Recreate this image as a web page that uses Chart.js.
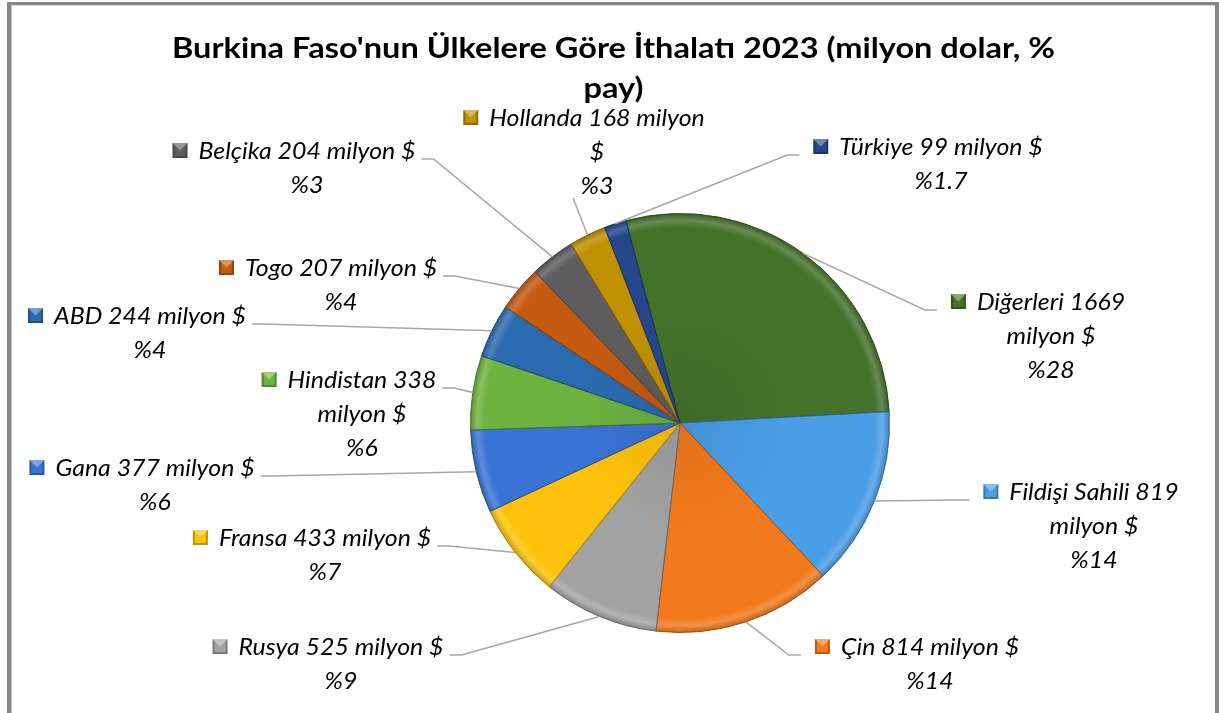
<!DOCTYPE html>
<html>
<head>
<meta charset="utf-8">
<script src="https://cdn.jsdelivr.net/npm/chart.js@4.4.1/dist/chart.umd.min.js"></script>
<style>
  html, body { margin: 0; padding: 0; background: #ffffff; }
  #wrap { position: relative; width: 1219px; height: 713px; }
</style>
</head>
<body>
<div id="wrap"><canvas id="c" width="1219" height="713"></canvas></div>
<script>
// ---- data ----
const titleLines = ["Burkina Faso'nun Ülkelere Göre İthalatı 2023 (milyon dolar, %", "pay)"];
const categories = ["Diğerleri", "Fildişi Sahili", "Çin", "Rusya", "Fransa", "Gana", "Hindistan", "ABD", "Togo", "Belçika", "Hollanda", "Türkiye"];
const values = [1669, 819, 814, 525, 433, 377, 338, 244, 207, 204, 168, 99];
const pctLabels = ["%28", "%14", "%14", "%9", "%7", "%6", "%6", "%4", "%4", "%3", "%3", "%1.7"];
const unitText = "milyon $";
// how each label wraps: 0 = one line, 1 = break before "milyon $", 2 = break before "$"
const wrapMode = [1, 1, 0, 0, 0, 0, 1, 0, 0, 0, 2, 0];

// ---- style ----
const colors = ["#44722A", "#4A9EE6", "#F27A1C", "#A2A2A2", "#FFC20A", "#3A73D6", "#6DB33F", "#2A6BAF", "#C55A11", "#5E5E5E", "#BF9000", "#26468C"];
// label layout: cx = centre of text block, y = centre of first line, side = where the label sits
const labelLayout = [
  {cx: 1051, y: 302, side: "right"},
  {cx: 1094, y: 492, side: "right"},
  {cx: 930,  y: 647, side: "right"},
  {cx: 341,  y: 647, side: "left"},
  {cx: 325,  y: 538, side: "left"},
  {cx: 155,  y: 468, side: "left"},
  {cx: 362,  y: 380, side: "left"},
  {cx: 150,  y: 316, side: "left"},
  {cx: 341,  y: 268, side: "left"},
  {cx: 307,  y: 151, side: "left"},
  {cx: 597,  y: 118, side: "top"},
  {cx: 941,  y: 147, side: "right"}
];

function shade(hex, f) {
  const n = parseInt(hex.slice(1), 16);
  let r = (n >> 16) & 255, g = (n >> 8) & 255, b = n & 255;
  if (f >= 0) { r += (255 - r) * f; g += (255 - g) * f; b += (255 - b) * f; }
  else { r *= (1 + f); g *= (1 + f); b *= (1 + f); }
  return "rgb(" + Math.round(r) + "," + Math.round(g) + "," + Math.round(b) + ")";
}

function labelLines(i) {
  const head = categories[i] + " " + values[i];
  if (wrapMode[i] === 1) return [head, unitText, pctLabels[i]];
  if (wrapMode[i] === 2) return [head + " milyon", "$", pctLabels[i]];
  return [head + " " + unitText, pctLabels[i]];
}

const LABEL_FONT = "italic 24px Lato, 'Open Sans', sans-serif";
const TITLE_FONT = "bold 28px Lato, 'Open Sans', sans-serif";

// draw centred text compressed horizontally by factor sx
function drawText(ctx, t, x, y, sx) {
  ctx.save();
  ctx.translate(x, y);
  ctx.scale(sx, 1);
  ctx.fillText(t, 0, 0);
  ctx.restore();
}

const decor = {
  id: "decor",
  beforeDraw(chart) {
    const ctx = chart.ctx;
    ctx.save();
    ctx.fillStyle = "#ffffff";
    ctx.fillRect(0, 0, chart.width, chart.height);
    ctx.fillStyle = "#868686";
    ctx.fillRect(7, 2, 1212, 3);
    ctx.fillRect(7, 2, 4.5, 711);
    ctx.fillRect(1215, 2, 4, 711);
    ctx.fillStyle = "#d9d9d9";
    ctx.fillRect(11.5, 5, 1203.5, 1);
    ctx.restore();
  },
  afterDraw(chart) {
    const ctx = chart.ctx;
    const meta = chart.getDatasetMeta(0);
    ctx.save();
    ctx.textAlign = "center";
    ctx.textBaseline = "middle";
    ctx.fillStyle = "#000000";
    // title
    ctx.font = TITLE_FONT;
    const tsx = 883 / ctx.measureText(titleLines[0]).width;
    drawText(ctx, titleLines[0], 613.5, 49, tsx);
    drawText(ctx, titleLines[1], 613.5, 89, tsx);

    // labels
    ctx.font = LABEL_FONT;
    const lsx = 192 / ctx.measureText("ABD 244 milyon $").width;
    const lineGap = 34;
    meta.data.forEach((arc, i) => {
      const L = labelLayout[i];
      const lines = labelLines(i);
      ctx.font = LABEL_FONT;
      const w0 = ctx.measureText(lines[0]).width * lsx;
      const left = L.cx - w0 / 2;
      const right = L.cx + w0 / 2;
      const sq = 15;
      const sqX = left - 26, sqY = L.y - 8;

      // leader line
      const p = arc.getProps(["x", "y", "startAngle", "endAngle", "outerRadius"], true);
      const mid = (p.startAngle + p.endAngle) / 2;
      const ex = p.x + Math.cos(mid) * p.outerRadius;
      const ey = p.y + Math.sin(mid) * p.outerRadius;
      ctx.strokeStyle = "#a6a6a6";
      ctx.lineWidth = 1.5;
      ctx.beginPath();
      if (L.side === "right") {
        const ax = sqX - 14, ay = L.y + 8;
        ctx.moveTo(ax, ay); ctx.lineTo(ax - 12, ay); ctx.lineTo(ex, ey);
      } else if (L.side === "left") {
        const ax = right + 6, ay = L.y + 8;
        ctx.moveTo(ax, ay); ctx.lineTo(ax + 12, ay); ctx.lineTo(ex, ey);
      } else {
        const ax = L.cx - 24, ay = L.y + (lines.length - 1) * lineGap + 12;
        ctx.moveTo(ax, ay); ctx.lineTo(ex, ey);
      }
      ctx.stroke();

      // legend key (bevelled square)
      const c = colors[i];
      ctx.fillStyle = shade(c, -0.25);
      ctx.fillRect(sqX, sqY, sq, sq);
      ctx.fillStyle = c;
      ctx.fillRect(sqX + 2, sqY + 2, sq - 4, sq - 4);
      ctx.fillStyle = shade(c, 0.35);
      ctx.beginPath();
      ctx.moveTo(sqX, sqY); ctx.lineTo(sqX + sq, sqY); ctx.lineTo(sqX + sq / 2, sqY + sq / 2); ctx.closePath();
      ctx.fill();

      // text
      ctx.fillStyle = "#000000";
      lines.forEach((t, k) => drawText(ctx, t, L.cx, L.y + k * lineGap, lsx));
    });
    ctx.restore();
  }
};

function sliceFill(context) {
  const i = context.dataIndex;
  const chart = context.chart;
  const a = chart.chartArea;
  const base = colors[i];
  if (!a) return base;
  const cx = (a.left + a.right) / 2, cy = (a.top + a.bottom) / 2;
  const r = Math.min(a.width, a.height) / 2;
  const g = chart.ctx.createRadialGradient(cx, cy, 0, cx, cy, r);
  g.addColorStop(0, shade(base, -0.08));
  g.addColorStop(0.5, base);
  g.addColorStop(0.93, base);
  g.addColorStop(0.965, shade(base, 0.18));
  g.addColorStop(1, shade(base, -0.2));
  return g;
}

new Chart(document.getElementById("c"), {
  type: "pie",
  data: {
    labels: categories,
    datasets: [{
      data: values,
      backgroundColor: sliceFill,
      borderColor: colors.map(c => shade(c, -0.35)),
      borderWidth: 1,
      hoverOffset: 0
    }]
  },
  options: {
    responsive: false,
    animation: false,
    events: [],
    rotation: -15,
    layout: { padding: { left: 470, right: 329, top: 213, bottom: 80 } },
    plugins: {
      legend: { display: false },
      title: { display: false },
      tooltip: { enabled: false }
    }
  },
  plugins: [decor]
});
</script>
</body>
</html>
